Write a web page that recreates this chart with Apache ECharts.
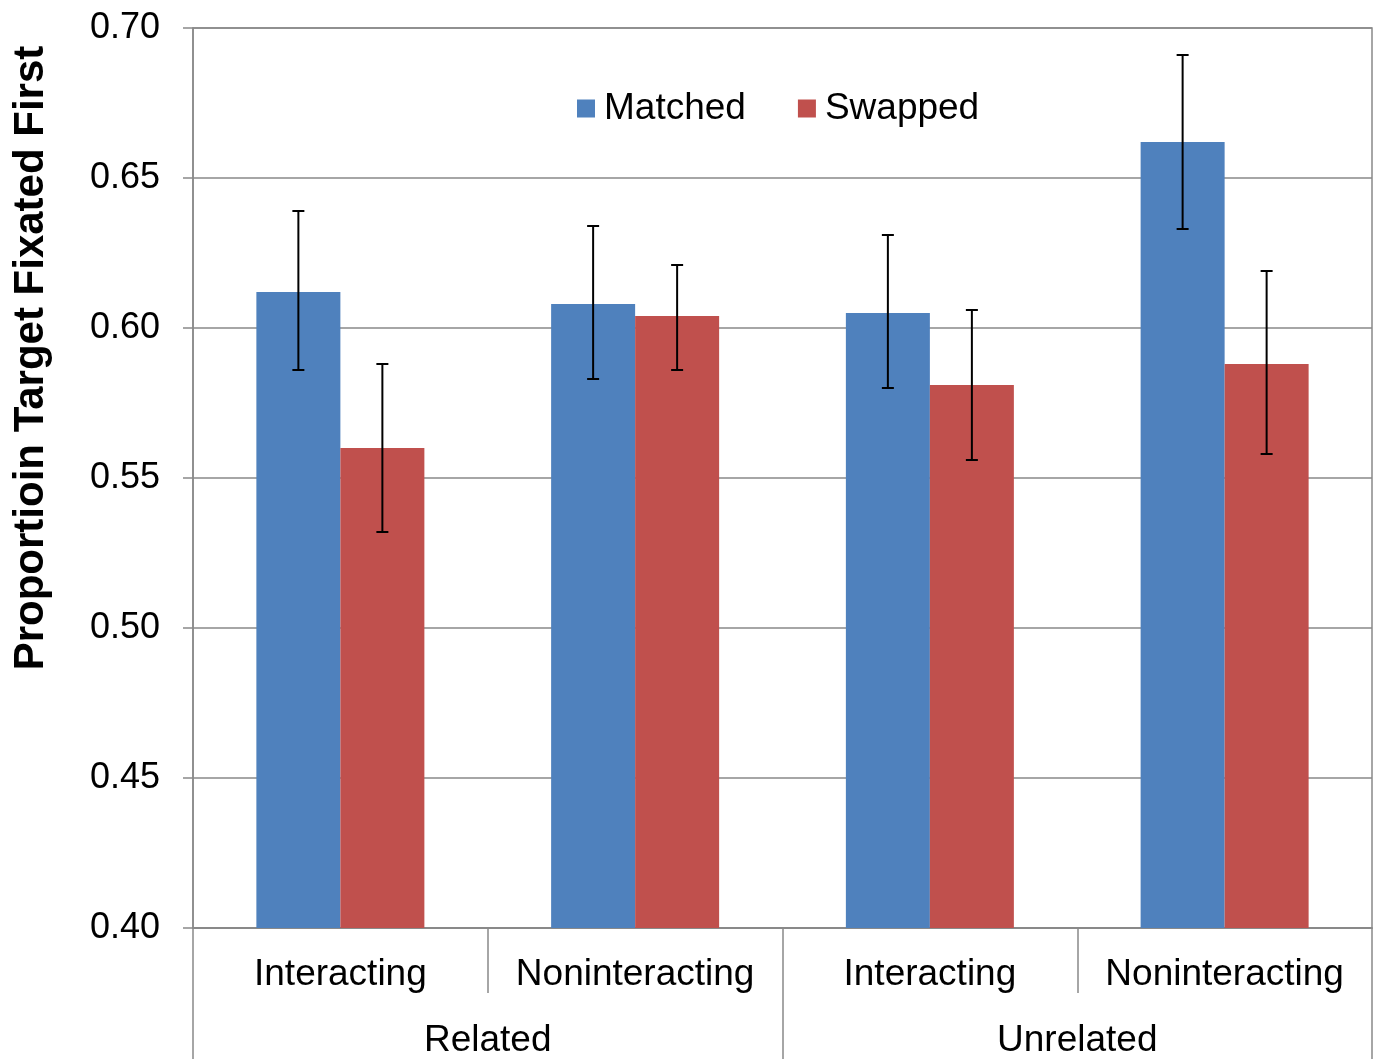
<!DOCTYPE html>
<html>
<head>
<meta charset="utf-8">
<script src="https://cdn.jsdelivr.net/npm/echarts@6/dist/echarts.min.js"></script>
<style>
html,body{margin:0;padding:0;background:#fff;}
#chart{width:1379px;height:1059px;}
</style>
</head>
<body>
<div id="chart"></div>
<script>
const categories = ['Interacting', 'Noninteracting', 'Interacting', 'Noninteracting'];
const groups = ['Related', 'Unrelated'];
const yTicks = [0.40, 0.45, 0.50, 0.55, 0.60, 0.65, 0.70];
const yTitle = 'Proportioin Target Fixated First';
const matched = [0.612, 0.608, 0.605, 0.662];
const matchedLow = [0.586, 0.583, 0.580, 0.633];
const matchedHigh = [0.639, 0.634, 0.631, 0.691];
const swapped = [0.560, 0.604, 0.581, 0.588];
const swappedLow = [0.532, 0.586, 0.556, 0.558];
const swappedHigh = [0.588, 0.621, 0.606, 0.619];

const FONT = '"Liberation Sans", Arial, sans-serif';
const GRAY = '#898989';
const BAR_FRAC = 0.285;

function errData(low, high) {
  return low.map((l, i) => [i, l, high[i]]);
}
function errSeries(low, high, side) {
  return {
    type: 'custom',
    xAxisIndex: 0,
    yAxisIndex: 0,
    z: 10,
    silent: true,
    data: errData(low, high),
    encode: { x: 0, y: [1, 2] },
    renderItem: function (params, api) {
      const i = api.value(0);
      const lo = api.coord([i, api.value(1)]);
      const hi = api.coord([i, api.value(2)]);
      const band = api.size([1, 0])[0];
      const x = lo[0] + side * band * BAR_FRAC / 2;
      const cap = 6;
      const style = { stroke: '#000', lineWidth: 2, fill: null };
      return {
        type: 'group',
        children: [
          { type: 'line', shape: { x1: x, y1: hi[1], x2: x, y2: lo[1] }, style: style },
          { type: 'line', shape: { x1: x - cap, y1: hi[1], x2: x + cap, y2: hi[1] }, style: style },
          { type: 'line', shape: { x1: x - cap, y1: lo[1], x2: x + cap, y2: lo[1] }, style: style }
        ]
      };
    }
  };
}

const chart = echarts.init(document.getElementById('chart'), null, { renderer: 'canvas' });
chart.setOption({
  animation: false,
  backgroundColor: '#fff',
  textStyle: { fontFamily: FONT },
  grid: { left: 193, right: 7, top: 28, bottom: 131, show: true, borderColor: GRAY, borderWidth: 1.5, backgroundColor: 'transparent' },
  graphic: [{
    type: 'text',
    x: 31,
    y: 358,
    rotation: Math.PI / 2,
    style: {
      text: yTitle,
      fontFamily: FONT,
      fontSize: 42,
      fontWeight: 'bold',
      fill: '#000',
      align: 'center',
      verticalAlign: 'middle'
    }
  }],
  legend: {
    data: ['Matched', 'Swapped'],
    top: 90,
    left: 577,
    padding: 0,
    itemWidth: 18,
    itemHeight: 18,
    itemGap: 52,
    icon: 'rect',
    textStyle: { fontFamily: FONT, fontSize: 37, color: '#000', padding: [0, 0, 0, 4] }
  },
  xAxis: [
    {
      type: 'category',
      data: categories,
      position: 'bottom',
      axisLine: { show: true, lineStyle: { color: GRAY, width: 1.5 } },
      axisTick: { show: true, interval: 0, length: 65, lineStyle: { color: GRAY, width: 1.5 } },
      axisLabel: { interval: 0, fontFamily: FONT, fontSize: 37, color: '#000', margin: 28 },
      splitLine: { show: false }
    },
    {
      type: 'category',
      data: groups,
      position: 'bottom',
      axisLine: { show: true, lineStyle: { color: GRAY, width: 1.5 } },
      axisTick: { show: true, interval: 0, length: 131, lineStyle: { color: GRAY, width: 1.5 } },
      axisLabel: { interval: 0, fontFamily: FONT, fontSize: 37, color: '#000', margin: 94 },
      splitLine: { show: false }
    }
  ],
  yAxis: {
    type: 'value',
    min: 0.40,
    max: 0.70,
    interval: 0.05,
    axisLine: { show: true, lineStyle: { color: GRAY, width: 1.5 } },
    axisTick: { show: true, length: 10, lineStyle: { color: GRAY, width: 1.5 } },
    axisLabel: {
      fontFamily: FONT, fontSize: 36, color: '#000', margin: 33,
      formatter: function (v) {
        const t = yTicks.find(t => Math.abs(t - v) < 1e-9);
        return (t !== undefined ? t : v).toFixed(2);
      }
    },
    splitLine: { show: true, lineStyle: { color: GRAY, width: 1.5 } }
  },
  series: [
    {
      name: 'Matched',
      type: 'bar',
      xAxisIndex: 0,
      data: matched,
      barWidth: (BAR_FRAC * 100) + '%',
      barGap: '0%',
      itemStyle: { color: '#4F81BD' }
    },
    {
      name: 'Swapped',
      type: 'bar',
      xAxisIndex: 0,
      data: swapped,
      barWidth: (BAR_FRAC * 100) + '%',
      barGap: '0%',
      itemStyle: { color: '#C0504D' }
    },
    errSeries(matchedLow, matchedHigh, -1),
    errSeries(swappedLow, swappedHigh, 1)
  ]
});
</script>
</body>
</html>
